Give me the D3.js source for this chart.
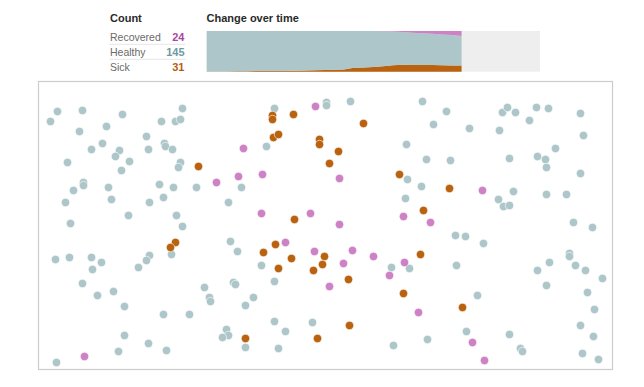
<!DOCTYPE html>
<html>
<head>
<meta charset="utf-8">
<script src="https://cdn.jsdelivr.net/npm/d3@7"></script>
<style>
  html, body { margin: 0; padding: 0; background: #fff; }
  svg { display: block; }
  text { font-family: "Liberation Sans", Arial, sans-serif; }
</style>
</head>
<body>
<svg id="chart" width="644" height="387"></svg>
<script>
// ---- Data ----
const statusNames = ["Recovered", "Healthy", "Sick"];
const statusCounts = [24, 145, 31];

// positions in simulation units (box is 574 x 288)
const healthyDots = [
  [19,30],[44,29],[12,40],[84,33],[144,27],[68,45],[41,50],[123,40],[137,40],[142,38],
  [108,55],[64,62],[53,68],[81,69],[77,75],[126,62],[127,65],[110,68],[134,68],[29,81],
  [91,80],[83,89],[142,81],[140,86],[45,101],[45,104],[35,109],[70,106],[121,103],[135,106],
  [158,106],[27,121],[73,118],[111,121],[125,116],[90,134],[138,134],[32,142],[144,145],[190,121],
  [236,27],[288,21],[288,24],[312,20],[384,20],[228,65],[368,63],[203,106],[369,98],[383,105],
  [367,117],[408,30],[395,43],[431,47],[461,49],[464,31],[469,26],[477,31],[498,26],[510,27],
  [491,39],[542,32],[545,54],[517,67],[388,78],[412,79],[471,77],[499,75],[507,78],[508,86],
  [542,92],[475,110],[460,118],[465,125],[471,124],[508,113],[528,113],[535,141],[554,146],[192,160],
  [17,178],[31,176],[53,176],[63,181],[54,188],[111,174],[108,179],[133,173],[100,186],[44,202],
  [59,214],[75,210],[86,225],[125,233],[151,233],[166,206],[171,216],[172,220],[86,254],[110,262],
  [80,270],[128,269],[18,281],[188,248],[190,254],[184,256],[199,170],[223,184],[195,201],[197,203],
  [236,200],[215,216],[207,224],[236,240],[247,250],[274,241],[207,266],[240,267],[353,186],[371,187],
  [355,264],[417,154],[427,155],[445,162],[418,184],[439,214],[428,250],[389,258],[471,253],[482,267],
  [484,270],[499,189],[511,181],[508,204],[531,172],[531,175],[537,184],[547,189],[564,197],[549,211],
  [556,228],[542,244],[555,255],[544,272],[560,278]
];
const sickDots = [
  [160,85],[234,34],[234,38],[255,33],[325,42],[235,56],[240,53],[281,58],[281,63],[300,70],
  [291,82],[361,93],[256,138],[385,129],[411,107],[137,161],[132,166],[237,163],[225,171],[253,177],
  [240,187],[286,175],[284,183],[275,189],[310,198],[365,212],[382,173],[311,244],[207,257],[279,257],
  [424,226]
];
const recoveredDots = [
  [178,101],[277,25],[205,67],[200,95],[224,93],[301,97],[223,132],[272,132],[301,143],[365,135],
  [444,109],[392,141],[46,275],[247,161],[276,170],[314,169],[335,175],[305,182],[291,205],[366,181],
  [351,194],[380,231],[434,261],[446,279]
];

// change over time (time steps 0..26 of 34)
const timeSteps = d3.range(0, 27);
const sickOverTime =      [1,1,1,2,2,3,3,4,4,5,6,7,8,9,11,20,21,23,27,32,34,33,33,33,32,31,31];
const recoveredOverTime = [0,0,0,0,0,0,0,0,0,0,0,0,0,0,0,0,0,0,1,3,5,8,11,14,17,20,24];
const totalPeople = 200;
const totalSteps = 34;

// ---- Styles ----
const colors = { Healthy: "#adc6c9", Sick: "#b9620f", Recovered: "#cc82c4" };
const numColors = { Healthy: "#6d9aa1", Sick: "#b35f10", Recovered: "#a9479f" };

const svg = d3.select("#chart");
svg.append("rect").attr("width", 644).attr("height", 387).attr("fill", "#fff");

// ---- Count legend ----
svg.append("text").attr("x", 110).attr("y", 22)
  .attr("font-size", 11).attr("font-weight", "bold").attr("fill", "#2a2a2a").text("Count");

const rowY = d3.scalePoint().domain(statusNames).range([40.5, 70.5]);
statusNames.forEach((name, i) => {
  svg.append("text").attr("x", 110).attr("y", rowY(name))
    .attr("font-size", 10.5).attr("fill", "#6a6a6a").text(name);
  svg.append("text").attr("x", 184.5).attr("y", rowY(name)).attr("text-anchor", "end")
    .attr("font-size", 11).attr("font-weight", "bold").attr("fill", numColors[name]).text(statusCounts[i]);
  if (i < statusNames.length - 1) {
    svg.append("line").attr("x1", 109.5).attr("x2", 185.5)
      .attr("y1", rowY(name) + 3.8).attr("y2", rowY(name) + 3.8)
      .attr("stroke", "#e6e6e6").attr("stroke-width", 1);
  }
});

// ---- Change over time ----
svg.append("text").attr("x", 206.5).attr("y", 22)
  .attr("font-size", 11).attr("font-weight", "bold").attr("fill", "#2a2a2a").text("Change over time");

const tx = d3.scaleLinear().domain([0, totalSteps]).range([206.7, 540]);
const ty = d3.scaleLinear().domain([0, totalPeople]).range([71.7, 31]);

svg.append("rect").attr("x", tx(0)).attr("y", ty(totalPeople))
  .attr("width", tx(totalSteps) - tx(0)).attr("height", ty(0) - ty(totalPeople))
  .attr("fill", "#eeeeee");

const series = timeSteps.map((t, i) => ({
  t,
  Sick: sickOverTime[i],
  Recovered: recoveredOverTime[i],
  Healthy: totalPeople - sickOverTime[i] - recoveredOverTime[i]
}));
const stack = d3.stack().keys(["Sick", "Healthy", "Recovered"]);
const layers = stack(series);
const area = d3.area()
  .x(d => tx(d.data.t))
  .y0(d => ty(d[0]))
  .y1(d => ty(d[1]));
svg.append("g").selectAll("path").data(layers).join("path")
  .attr("d", area).attr("fill", d => colors[d.key]);

// ---- Simulation box ----
const x = d3.scaleLinear().domain([0, 574]).range([38.5, 612.5]);
const y = d3.scaleLinear().domain([0, 288]).range([81.5, 369.5]);

svg.append("rect").attr("x", x(0)).attr("y", y(0))
  .attr("width", x(574) - x(0)).attr("height", y(288) - y(0))
  .attr("fill", "none").attr("stroke", "#cccccc").attr("stroke-width", 1.2);

const dots = [
  ...healthyDots.map(p => ({ p, s: "Healthy" })),
  ...sickDots.map(p => ({ p, s: "Sick" })),
  ...recoveredDots.map(p => ({ p, s: "Recovered" }))
];
svg.append("g").selectAll("circle").data(dots).join("circle")
  .attr("cx", d => x(d.p[0]))
  .attr("cy", d => y(d.p[1]))
  .attr("r", 4.2)
  .attr("fill", d => colors[d.s])
  .attr("stroke", "#fff").attr("stroke-width", 0.6);
</script>
</body>
</html>
